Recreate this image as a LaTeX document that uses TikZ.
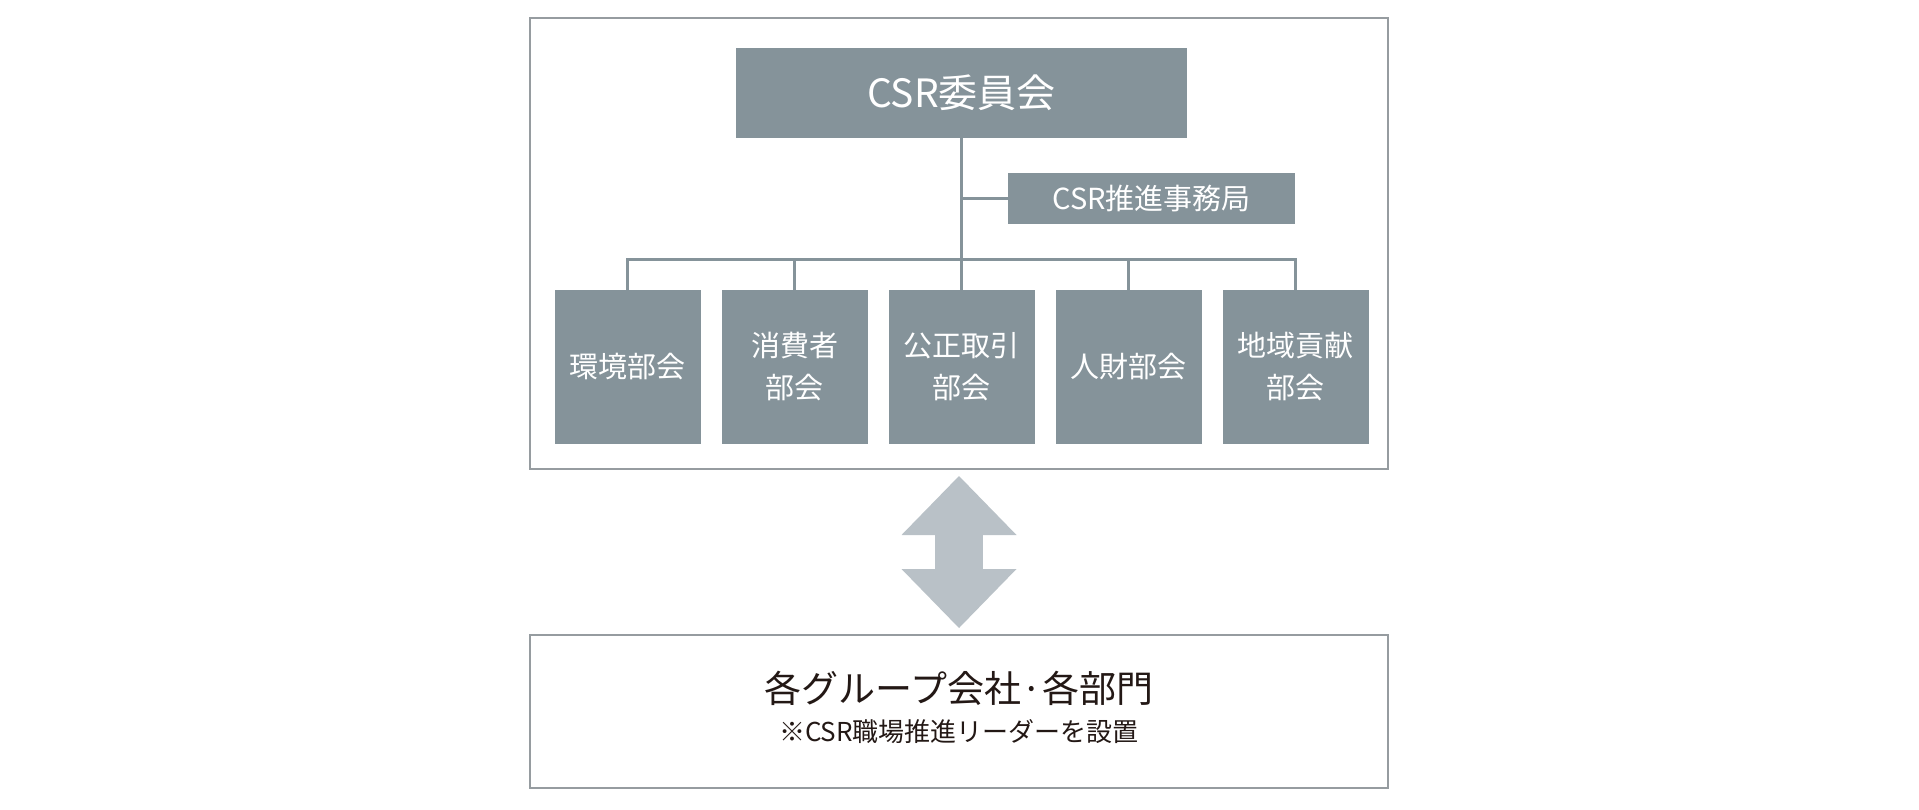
\documentclass[tikz,border=0pt]{standalone}
\usepackage{fontspec}
\setmainfont{Noto Sans CJK JP}
\usetikzlibrary{arrows.meta}
\definecolor{boxgray}{RGB}{133,147,154}
\definecolor{framegray}{RGB}{150,156,160}
\definecolor{arrowgray}{RGB}{185,193,199}
\definecolor{textblack}{RGB}{35,24,21}

\begin{document}
\begin{tikzpicture}[
	x=1pt,y=-1pt,
	level distance=274pt,
	sibling distance=167pt,
	frm/.style={draw=framegray,line width=2pt,inner sep=0pt,minimum width=858pt},
	cmt/.style={fill=boxgray,text=white,inner sep=0pt,minimum width=451pt,minimum height=90pt,font=\fontsize{39}{47}\selectfont},
	sec/.style={fill=boxgray,text=white,inner sep=0pt,minimum width=287pt,minimum height=51pt,font=\fontsize{29}{35}\selectfont},
	dpt/.style={fill=boxgray,text=white,inner sep=0pt,minimum width=146pt,minimum height=154pt,align=center,font=\fontsize{29}{42}\selectfont},
	conn/.style={draw=boxgray,line width=3pt},
	arr/.style={draw=arrowgray,line width=48pt,{Triangle[width=115pt,length=59pt,line width=0pt]}-{Triangle[width=115pt,length=59pt,line width=0pt]}},
	edge from parent/.style={conn},
	edge from parent path={(\tikzparentnode.south) -- ++(0,-121pt) -| (\tikzchildnode.north)},
	]
\useasboundingbox (0,0) rectangle (1919,809);
\node [frm,minimum height=451pt] (upper) at (959,243.5) {};
\node [frm,minimum height=153pt] (lower) at (959,711.5) {};
\node [cmt] (csr) at (961.5,93) {CSR委員会}
	child { node [dpt] (env) {環境部会} }
	child { node [dpt] (cons) {消費者\\部会} }
	child { node [dpt] (fair) {公正取引\\部会} }
	child { node [dpt] (hr) {人財部会} }
	child { node [dpt] (comm) {地域貢献\\部会} }
;
\node [sec] (office) at (1151.5,198.5) {CSR推進事務局};
\draw [conn] (office.west) -- (office.west -| csr.south);
\node [text=textblack,font=\fontsize{37}{44}\selectfont] (grp) at (959,688) {各グループ会社·各部門};
\node [text=textblack,font=\fontsize{26}{31}\selectfont] (lead) at (959,732) {※CSR職場推進リーダーを設置};
\draw [arr] ([yshift=-6pt]upper.south) -- ([yshift=6pt]lower.north);
\end{tikzpicture}
\end{document}
